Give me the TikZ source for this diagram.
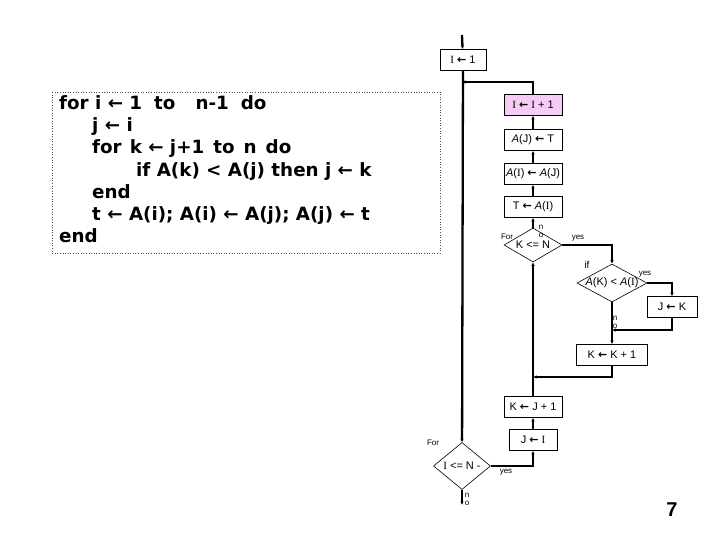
\documentclass[tikz,border=0pt]{standalone}
\usepackage{fontspec}
\setmainfont{Liberation Serif}
\setsansfont{Liberation Sans}
\newfontfamily\codefont{DejaVu Sans}
\newfontfamily\symfont{DejaVu Sans}
\usepackage{xcolor}
\usetikzlibrary{shapes.geometric,arrows.meta}
\definecolor{incpink}{HTML}{F6CCF6}
\newcommand{\la}{{\symfont\bfseries ←}}
\newcommand{\iv}{{\rmfamily I}}

\begin{document}
\begin{tikzpicture}[
			x=1pt, y=-1pt,
			>={Latex[length=3.5pt,width=3.5pt]},
			box/.style={draw, line width=0.8pt, fill=white, minimum width=58pt, minimum height=21pt, inner sep=1pt, font=\sffamily\fontsize{11}{13}\selectfont},
			cond/.style={draw, diamond, line width=0.6pt, inner sep=0pt, font=\sffamily\fontsize{11}{13}\selectfont},
			flow/.style={line width=2.3pt},
			tag/.style={inner sep=0pt, align=center, font=\sffamily\fontsize{8}{9}\selectfont}
			]
			\useasboundingbox (0,0) rectangle (720,540);
			
			% pseudo code
			\draw[dotted, line width=0.6pt, black!70] (52,92) rectangle (440,253);
			\node[anchor=north west, inner sep=0pt, align=left, font=\codefont\bfseries\fontsize{18.3}{22.3}\selectfont] (code) at (59,95) {%
				for i ← 1\hspace{12pt}to\hspace{20pt}n-1\hspace{12pt}do\\
				\hspace*{33pt}j ← i\\
				\hspace*{33pt}for\hspace{8pt}k ← j+1\hspace{9pt}to\hspace{9pt}n\hspace{9pt}do\\
				\hspace*{77pt}if A(k) < A(j) then j ← k\\
				\hspace*{33pt}end\\
				\hspace*{33pt}t ← A(i); A(i) ← A(j); A(j) ← t\\
				end};
			
			% flowchart
			\coordinate (top) at (462,35);
			\node[box, minimum width=46pt] (init) at (463,60) {\iv\ \la\ 1};
			\node[box, fill=incpink] (incI) at (533,105) {\iv\ \la\ \iv\ + 1};
			\node[box] (swapB) at (533,140) {\textit{A}(J) \la\ T};
			\node[box] (swapA) at (533,174) {\textit{A}(\iv) \la\ \textit{A}(J)};
			\node[box] (swapT) at (533,207) {T \la\ \textit{A}(\iv)};
			\node[cond, minimum width=58pt, minimum height=34pt] (testK) at (533,245) {\makebox[0pt]{K <= N}};
			\node[cond, minimum width=70pt, minimum height=38pt] (testA) at (612,283) {\makebox[0pt]{\textit{A}(K) < \textit{A}(\iv)}};
			\node[box, minimum width=50pt] (setJ) at (672,307) {J \la\ K};
			\node[box, minimum width=71pt] (incK) at (612,355) {K \la\ K + 1};
			\node[box] (initK) at (533,407) {K \la\ J + 1};
			\node[box, minimum width=48pt] (initJ) at (533,440) {J \la\ \iv};
			\node[cond, minimum width=57pt, minimum height=47pt] (testI) at (462,466) {\makebox[0pt]{\iv\ <= N -}};
			\coordinate (endI) at (462,505);
			\coordinate (jn1) at (462,82);
			\coordinate (jn2) at (612,330);
			\coordinate (jn3) at (533,377);
			
			\draw[flow,->] (top) -- (init);
			\draw[flow,->] (init) -- (testI);
			\draw[flow,->] (incI) |- (jn1);
			\draw[flow,->] (swapB) -- (incI);
			\draw[flow,->] (swapA) -- (swapB);
			\draw[flow,->] (swapT) -- (swapA);
			\draw[flow,->] (testK) -- (swapT);
			\draw[flow,->] (testK) -| (testA);
			\draw[flow,->] (testA) -| (setJ);
			\draw[flow,->] (setJ) |- (jn2);
			\draw[flow,->] (testA) -- (incK);
			\draw[flow,->] (incK) |- (jn3);
			\draw[flow,->] (initK) -- (testK);
			\draw[flow,->] (initJ) -- (initK);
			\draw[flow,->] (testI) -| (initJ);
			\draw[flow,->] (testI) -- (endI);
			
			% branch labels
			\node[tag] (forK) at (507,237) {For};
			\node[tag] (noK) at (541,231) {n\\[-1pt]o};
			\node[tag] (yesK) at (578,238) {yes};
			\node[tag, font=\sffamily\fontsize{10}{12}\selectfont] (ifA) at (587,265) {if};
			\node[tag] (yesA) at (645,274) {yes};
			\node[tag] (noA) at (615,322) {n\\[-1pt]o};
			\node[tag] (forI) at (433,443) {For};
			\node[tag] (yesI) at (506,472) {yes};
			\node[tag] (noI) at (467,499) {n\\[-1pt]o};
			
			\node[font=\sffamily\bfseries\fontsize{20}{24}\selectfont] (page) at (672,510) {7};
		\end{tikzpicture}
\end{document}
